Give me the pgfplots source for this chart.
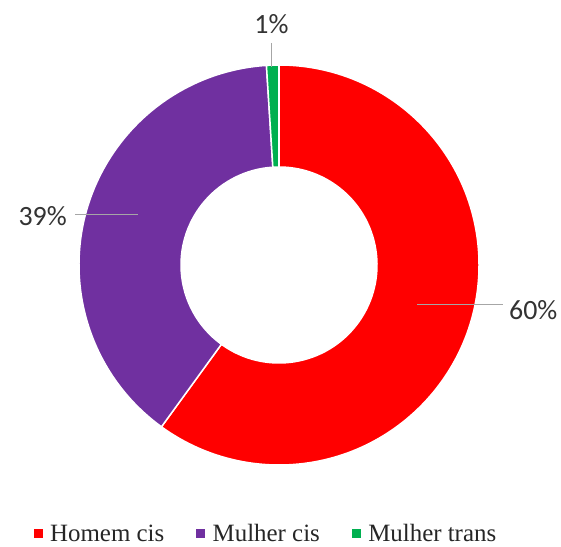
\documentclass[border=0pt]{standalone}
\usepackage{fontspec}
\setmainfont{Liberation Serif}
\newfontfamily\calibri{Carlito}
\usepackage{pgfplots}
\usepackage{pgfplotstable}
\pgfplotsset{compat=1.18}
\definecolor{cRed}{HTML}{FF0000}
\definecolor{cPurple}{HTML}{7030A0}
\definecolor{cGreen}{HTML}{00B050}
\definecolor{leader}{HTML}{A6A6A6}
\def\Ro{200bp}
\def\Ri{98bp}
\newcommand\ringsector[3]{%
  \fill[overlay, #3, draw=white, line width=1.5bp] (axis cs:0,0) ++(#1:\Ro)
    arc[start angle=#1, end angle=#2, radius=\Ro]
    -- ([shift={(#2:\Ri)}]axis cs:0,0)
    arc[start angle=#2, end angle=#1, radius=\Ri] -- cycle;}
\pgfplotstableread{
label value
HomemCis 60
MulherCis 39
MulherTrans 1
}\shares
\pgfplotstablegetelem{0}{value}\of\shares \let\vA\pgfplotsretval
\pgfplotstablegetelem{1}{value}\of\shares \let\vB\pgfplotsretval
\pgfplotstablegetelem{2}{value}\of\shares \let\vC\pgfplotsretval
\pgfmathsetmacro\tot{\vA+\vB+\vC}
\pgfmathsetmacro\aA{90}
\pgfmathsetmacro\aB{90-360*(\vA/\tot)}
\pgfmathsetmacro\aC{\aB-360*(\vB/\tot)}
\pgfmathsetmacro\aD{\aC-360*(\vC/\tot)}
\begin{document}%
\begin{tikzpicture}
\begin{axis}[
  x=1bp, y=1bp,
  xmin=-279, xmax=282, ymin=-282, ymax=265,
  hide axis, clip=false,
  legend columns=3,
  legend image code/.code={\fill[#1] (0bp,-4bp) rectangle (8bp,4bp);},
  legend style={draw=none, fill=none, at={(axis cs:-14,-268)}, anchor=center,
    inner sep=0pt,
    nodes={inner sep=0pt, text depth=0pt},
    font=\fontsize{25}{29}\selectfont, text=black!85,
    /tikz/every odd column/.append style={column sep=8bp},
    /tikz/every even column/.append style={column sep=32bp}},
]
\path (axis cs:-279,-282) rectangle (axis cs:282,265);
\ringsector{\aA}{\aB}{cRed}
\ringsector{\aB}{\aC}{cPurple}
\ringsector{\aC}{\aD}{cGreen}
\addlegendimage{cRed}\addlegendentry{Homem cis}
\addlegendimage{cPurple}\addlegendentry{Mulher cis}
\addlegendimage{cGreen}\addlegendentry{Mulher trans}
% leader lines and labels
\draw[leader, line width=1bp] (axis cs:138,-40) -- (axis cs:224,-40);
\node[anchor=west, font=\calibri\fontsize{28}{32}\selectfont, text=black!80, inner sep=0pt] at (axis cs:230,-45) {60\%};
\draw[leader, line width=1bp] (axis cs:-204,50) -- (axis cs:-141,50);
\node[anchor=east, font=\calibri\fontsize{28}{32}\selectfont, text=black!80, inner sep=0pt] at (axis cs:-212,49) {39\%};
\draw[leader, line width=1bp] (axis cs:-8,222) -- (axis cs:-8,198);
\node[anchor=center, font=\calibri\fontsize{28}{32}\selectfont, text=black!80, inner sep=0pt] at (axis cs:-7.5,241) {1\%};
\end{axis}
\end{tikzpicture}%
\end{document}
